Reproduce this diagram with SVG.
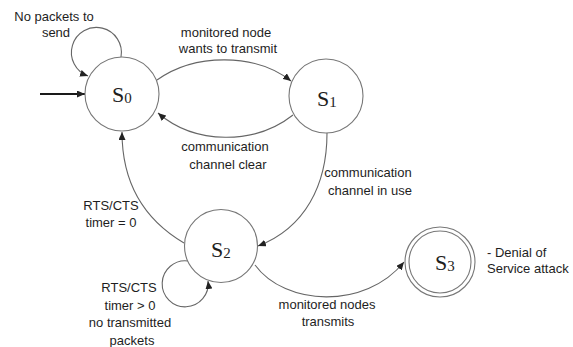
<svg xmlns="http://www.w3.org/2000/svg" width="573" height="347" viewBox="0 0 573 347">
  <style>
    .state { fill: #ffffff; stroke: #777777; stroke-width: 1.1; }
    .edge { fill: none; stroke: #666666; stroke-width: 1.1; marker-end: url(#arrow); }
    .init { stroke: #1a1a1a; stroke-width: 1.8; }
    .lbl { font-family: "Liberation Sans", Arial, sans-serif; font-size: 13px; fill: #1e1e1e; }
    .mid { text-anchor: middle; }
    .sname { font-family: "Liberation Serif", "Times New Roman", serif; font-size: 22px; fill: #1e1e1e; }
    .sub { font-size: 15px; }
  </style>
  <defs>
    <marker id="arrow" markerWidth="9" markerHeight="7" refX="8" refY="3.5" orient="auto" markerUnits="userSpaceOnUse">
      <path d="M0,0 L8,3.5 L0,7 z" fill="#222222"/>
    </marker>
  </defs>
  <rect width="573" height="347" fill="#ffffff"/>

  <g id="connectors">
    <line class="edge init" x1="40" y1="94" x2="85" y2="94"/>
    <path class="edge" d="M 121 57 A 25 25 0 1 0 88 76"/>
    <path class="edge" d="M 157 80 C 195 53, 255 53, 291 81"/>
    <path class="edge" d="M 293 115 C 255 145, 195 145, 158 113"/>
    <path class="edge" d="M 327 133 C 327 185, 305 228, 258 246"/>
    <path class="edge" d="M 184 243 C 145 220, 122 185, 122 132"/>
    <path class="edge" d="M 188 261 A 23 23 0 1 0 208 281"/>
    <path class="edge" d="M 255 265 C 285 306, 365 310, 404 262"/>
  </g>

  <g id="S0">
    <circle class="state" cx="122" cy="94" r="37"/>
    <text class="sname" x="112" y="102">S<tspan class="sub" dy="1">0</tspan></text>
  </g>
  <g id="S1">
    <circle class="state" cx="326" cy="96" r="37"/>
    <text class="sname" x="317" y="106">S<tspan class="sub" dy="1">1</tspan></text>
  </g>
  <g id="S2">
    <circle class="state" cx="221" cy="246" r="36.5"/>
    <text class="sname" x="211" y="257">S<tspan class="sub" dy="1">2</tspan></text>
  </g>
  <g id="S3">
    <circle class="state" cx="440" cy="262" r="35"/>
    <circle class="state" cx="440" cy="262" r="31" fill="none"/>
    <text class="sname" x="435" y="270">S<tspan class="sub" dy="1">3</tspan></text>
  </g>

  <g id="labels">
    <text class="lbl mid" x="54" y="21">No packets to</text>
    <text class="lbl mid" x="56" y="37">send</text>
    <text class="lbl mid" x="226" y="37">monitored node</text>
    <text class="lbl mid" x="228" y="53">wants to transmit</text>
    <text class="lbl mid" x="225" y="151">communication</text>
    <text class="lbl mid" x="228" y="169">channel clear</text>
    <text class="lbl mid" x="368" y="177">communication</text>
    <text class="lbl mid" x="370" y="195">channel in use</text>
    <text class="lbl mid" x="111" y="210">RTS/CTS</text>
    <text class="lbl mid" x="111" y="227">timer = 0</text>
    <text class="lbl mid" x="129" y="292">RTS/CTS</text>
    <text class="lbl mid" x="130" y="310">timer &gt; 0</text>
    <text class="lbl mid" x="130" y="327">no transmitted</text>
    <text class="lbl mid" x="132" y="345">packets</text>
    <text class="lbl mid" x="327" y="309">monitored nodes</text>
    <text class="lbl mid" x="328" y="326">transmits</text>
    <text class="lbl" x="487" y="257">- Denial of</text>
    <text class="lbl" x="487" y="273">Service attack</text>
  </g>
</svg>
